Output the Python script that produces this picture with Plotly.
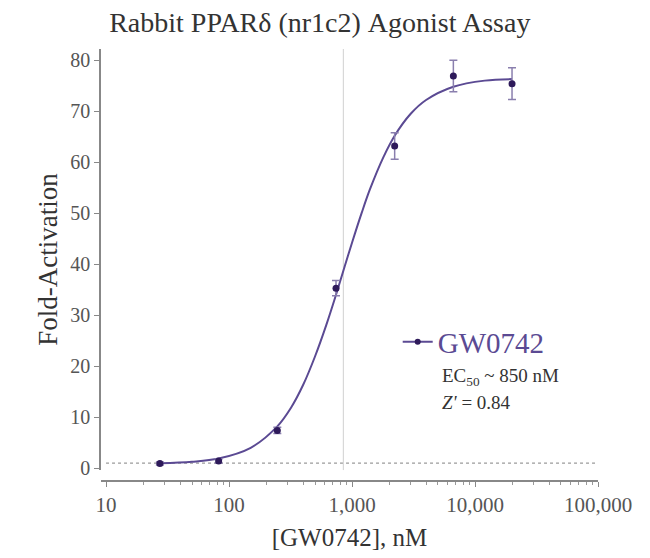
import plotly.graph_objects as go

# GW0742 dose response (nM) and fold-activation
conc_nm = [27.4, 82.3, 247, 741, 2222, 6667, 20000]
fold_act = [0.9, 1.4, 7.4, 35.3, 63.2, 76.9, 75.4]
fold_err = [0.3, 0.4, 0.6, 1.5, 2.6, 3.1, 3.1]

# fitted curve
curve_nm = [27.4, 50, 82.3, 150, 247, 320, 400, 500, 620, 741, 870, 1000,
            1200, 1400, 1800, 2222, 3000, 4000, 6667, 12000, 20000]
curve_fold = [0.96, 1.26, 1.9, 4.0, 8.2, 11.9, 16.3, 21.9, 28.2, 34.0, 39.5, 44.2,
              50.1, 54.7, 61.0, 65.2, 69.5, 72.2, 74.8, 76.0, 76.3]

baseline = [1, 1]
baseline_nm = [10, 100000]
ec50_nm = 850

curve_color = "#5b4a93"
marker_color = "#2e1a5a"
serif = "Liberation Serif"
y_range = [-0.4, 82.2]

fig = go.Figure()

# dotted baseline at 1-fold
fig.add_trace(go.Scatter(
    x=baseline_nm, y=baseline, mode="lines",
    line=dict(color="#9a9a9a", width=1.2, dash="dot"),
    showlegend=False, hoverinfo="skip"))

# EC50 marker line
fig.add_trace(go.Scatter(
    x=[ec50_nm, ec50_nm], y=y_range, mode="lines",
    line=dict(color="#d0d0d0", width=1),
    showlegend=False, hoverinfo="skip"))

fig.add_trace(go.Scatter(
    x=curve_nm, y=curve_fold, mode="lines", line_shape="spline",
    line=dict(color=curve_color, width=2),
    showlegend=False))

fig.add_trace(go.Scatter(
    x=conc_nm, y=fold_act, mode="markers",
    marker=dict(color=marker_color, size=7),
    error_y=dict(type="data", array=fold_err, color="#8a7fae",
                 thickness=1.5, width=4),
    showlegend=False))

# legend entry only
fig.add_trace(go.Scatter(
    x=[None], y=[None], mode="lines+markers", name="GW0742",
    line=dict(color=curve_color, width=2),
    marker=dict(color=marker_color, size=6)))

fig.update_layout(
    width=650, height=558,
    margin=dict(l=101, r=52, t=49, b=77),
    plot_bgcolor="white", paper_bgcolor="white",
    font=dict(family=serif, color="#444444"),
    title=dict(text="Rabbit PPARδ (nr1c2) Agonist Assay",
               x=0.492, xanchor="center", y=0.9606, yanchor="middle",
               font=dict(size=28, color="#333333")),
    xaxis=dict(
        type="log", range=[0.959, 5], anchor="free", position=0,
        tickmode="linear", tick0=1, dtick=1, tickformat=",",
        ticks="outside", ticklen=5, tickcolor="#888888",
        minor=dict(dtick="D1", ticks="outside", ticklen=3,
                   tickcolor="#999999", showgrid=False),
        showline=True, linecolor="#888888", linewidth=1.5,
        showgrid=False, zeroline=False,
        tickfont=dict(size=21, color="#555555"),
        title=dict(text="[GW0742], nM", font=dict(size=25, color="#333333"),
                   standoff=12)),
    yaxis=dict(
        range=y_range, domain=[0.025, 1],
        tickvals=[0, 10, 20, 30, 40, 50, 60, 70, 80],
        ticks="outside", ticklen=5, tickcolor="#888888",
        showline=True, linecolor="#888888", linewidth=1.5,
        showgrid=False, zeroline=False,
        tickfont=dict(size=20, color="#555555"),
        title=dict(text="Fold-Activation", font=dict(size=27, color="#333333"),
                   standoff=5)),
    legend=dict(x=0.597, y=0.322, xanchor="left", yanchor="middle",
                bgcolor="rgba(0,0,0,0)",
                font=dict(size=29, color="#5b4a93", family=serif),
                itemwidth=30),
    annotations=[
        dict(text="EC<sub>50</sub> ~ 850 nM", x=0.682, y=0.241,
             xref="paper", yref="paper", xanchor="left", yanchor="middle",
             showarrow=False, font=dict(size=19, color="#333333")),
        dict(text="<i>Z'</i> = 0.84", x=0.682, y=0.181,
             xref="paper", yref="paper", xanchor="left", yanchor="middle",
             showarrow=False, font=dict(size=19, color="#333333")),
    ],
)

fig.write_html("out.html", config={"displayModeBar": False},
               post_script="document.body.style.margin='0';")
